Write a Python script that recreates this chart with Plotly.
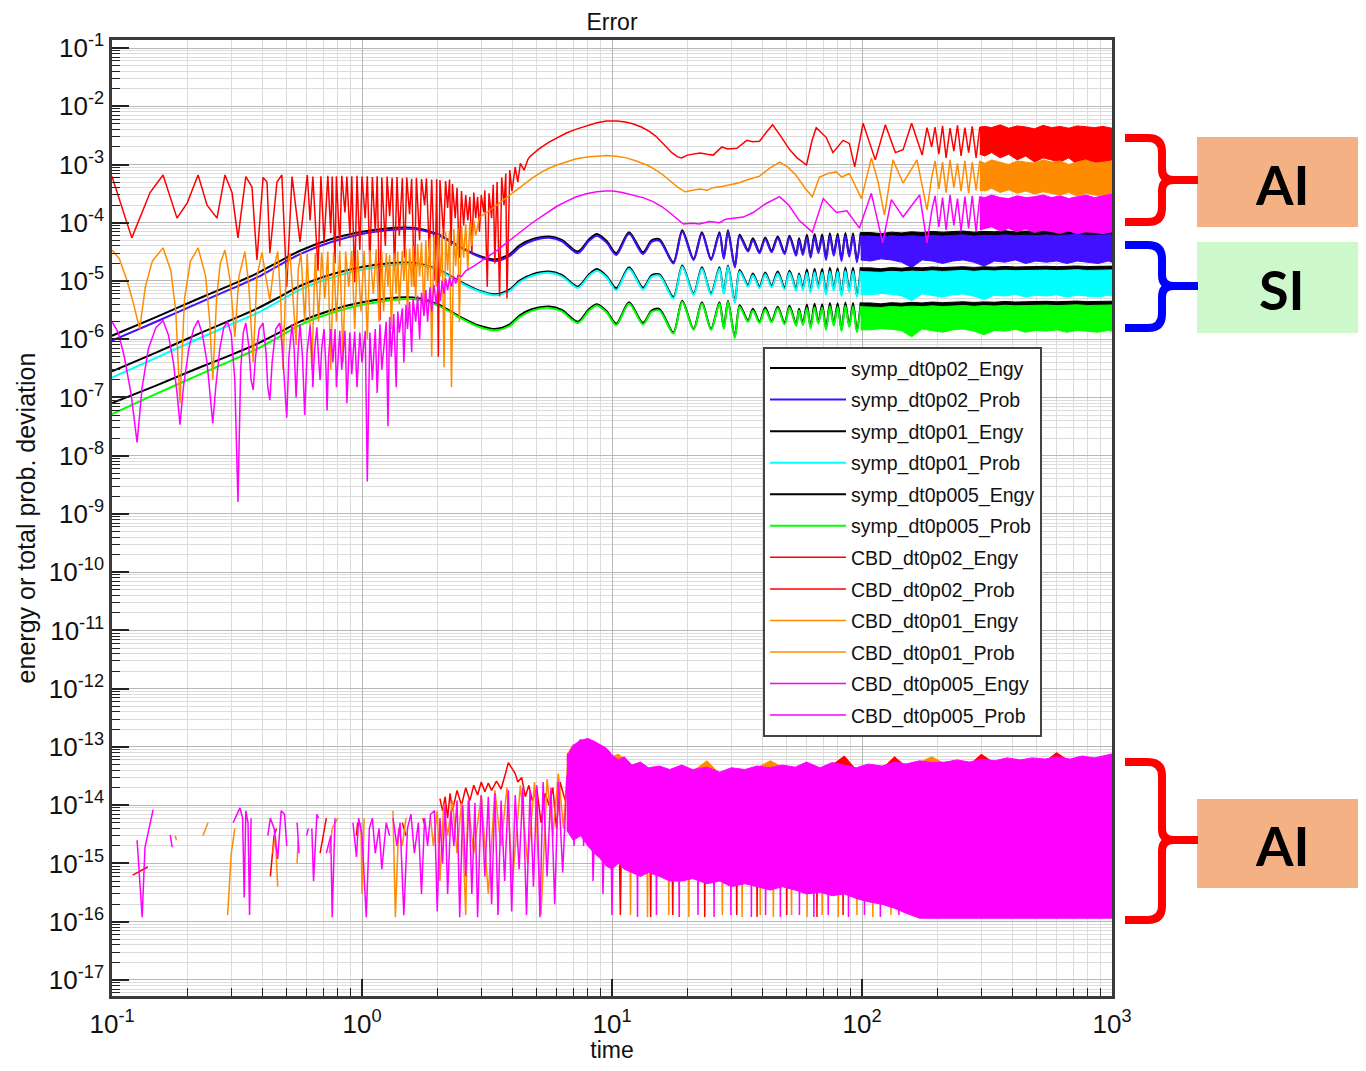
import plotly.graph_objects as go

# ---------------------------------------------------------------- data
# symplectic integrator: smooth / oscillating part (time grid shared by the six SI curves)
T_SYMP = [0.1, 0.15, 0.225, 0.3, 0.38, 0.47, 0.565, 0.77, 1.0, 1.26,
          1.5, 1.7, 2.04, 2.46, 2.95, 3.4, 3.9, 4.27, 4.8, 5.6,
          6.3, 7.3, 8.1, 8.7, 9.5, 10.4, 11.7, 13.3, 14.4, 15.5,
          17.6, 19.1, 21.2, 22.9, 24.9, 26.9, 28.0, 29.1, 31.0, 32.4,
          35.0, 36.6, 38.9, 41.0, 43.5, 46.0, 49.0, 51.3, 54.5, 56.0,
          58.0, 60.2, 62.3, 64.6, 66.9, 69.3, 71.8, 74.4, 77.1, 79.9,
          82.8, 85.8, 88.9, 92.1, 95.4, 98.8]

V_SYMP02_ENGY = [1.15e-6, 2.4e-6, 5.1e-6, 8.6e-6, 1.35e-5, 2.2e-5, 3.3e-5, 5.4e-5, 7.0e-5, 8.0e-5,
                 8.3e-5, 7.9e-5, 6.2e-5, 3.9e-5, 2.7e-5, 2.35e-5, 2.9e-5, 4.1e-5, 5.2e-5, 5.8e-5,
                 5.1e-5, 3.2e-5, 5.2e-5, 6.4e-5, 4.9e-5, 3.0e-5, 6.9e-5, 3.1e-5, 5.0e-5, 5.2e-5,
                 2.1e-5, 7.4e-5, 2.4e-5, 6.9e-5, 2.4e-5, 6.9e-5, 2.5e-5, 7.4e-5, 1.8e-5, 6.2e-5,
                 3.4e-5, 5.4e-5, 3.2e-5, 5.6e-5, 3.3e-5, 5.8e-5, 3.1e-5, 6.0e-5, 2.9e-5, 5.4e-5,
                 3.0e-5, 6.2e-5, 2.7e-5, 6.4e-5, 3.2e-5, 6.3e-5, 2.5e-5, 6.6e-5, 2.9e-5, 6.5e-5,
                 2.4e-5, 6.7e-5, 2.8e-5, 6.6e-5, 2.3e-5, 6.8e-5]
V_SYMP02_PROB = [9.5e-7, 2.0e-6, 4.3e-6, 7.3e-6, 1.15e-5, 1.9e-5, 2.9e-5, 4.8e-5, 6.4e-5, 7.4e-5,
                 7.9e-5, 7.6e-5, 6.0e-5, 3.8e-5, 2.6e-5, 2.2e-5, 2.7e-5, 3.8e-5, 4.9e-5, 5.5e-5,
                 4.8e-5, 3.0e-5, 4.9e-5, 6.0e-5, 4.6e-5, 2.8e-5, 6.5e-5, 2.9e-5, 4.7e-5, 4.9e-5,
                 2.0e-5, 7.0e-5, 2.3e-5, 6.5e-5, 2.3e-5, 6.5e-5, 2.4e-5, 7.0e-5, 1.7e-5, 5.8e-5,
                 3.2e-5, 5.0e-5, 3.0e-5, 5.2e-5, 3.1e-5, 5.4e-5, 2.9e-5, 5.6e-5, 2.7e-5, 5.0e-5,
                 2.8e-5, 5.5e-5, 2.5e-5, 5.7e-5, 3.0e-5, 5.6e-5, 2.3e-5, 5.9e-5, 2.7e-5, 5.8e-5,
                 2.2e-5, 6.0e-5, 2.6e-5, 5.9e-5, 2.1e-5, 6.0e-5]
V_SYMP01_ENGY = [2.8e-7, 5.9e-7, 1.27e-6, 2.15e-6, 3.35e-6, 5.4e-6, 8.2e-6, 1.33e-5, 1.74e-5, 2.0e-5,
                 2.08e-5, 1.98e-5, 1.55e-5, 9.8e-6, 6.8e-6, 5.9e-6, 7.2e-6, 1.02e-5, 1.3e-5, 1.45e-5,
                 1.27e-5, 8.0e-6, 1.3e-5, 1.6e-5, 1.22e-5, 7.5e-6, 1.72e-5, 7.7e-6, 1.25e-5, 1.3e-5,
                 5.3e-6, 1.85e-5, 6.1e-6, 1.72e-5, 6.1e-6, 1.72e-5, 6.3e-6, 1.85e-5, 4.5e-6, 1.55e-5,
                 8.5e-6, 1.35e-5, 8.0e-6, 1.4e-5, 8.3e-6, 1.45e-5, 7.7e-6, 1.5e-5, 7.3e-6, 1.35e-5,
                 7.5e-6, 1.58e-5, 6.7e-6, 1.62e-5, 8.0e-6, 1.6e-5, 6.2e-6, 1.68e-5, 7.2e-6, 1.66e-5,
                 5.9e-6, 1.71e-5, 6.9e-6, 1.68e-5, 5.6e-6, 1.72e-5]
V_SYMP01_PROB = [2.2e-7, 4.8e-7, 1.05e-6, 1.8e-6, 2.8e-6, 4.6e-6, 7.1e-6, 1.17e-5, 1.56e-5, 1.82e-5,
                 1.95e-5, 1.88e-5, 1.5e-5, 9.5e-6, 6.6e-6, 5.7e-6, 6.8e-6, 9.6e-6, 1.23e-5, 1.38e-5,
                 1.2e-5, 7.6e-6, 1.23e-5, 1.5e-5, 1.16e-5, 7.0e-6, 1.63e-5, 7.2e-6, 1.18e-5, 1.23e-5,
                 5.0e-6, 1.75e-5, 5.8e-6, 1.63e-5, 5.8e-6, 1.63e-5, 6.0e-6, 1.75e-5, 4.2e-6, 1.45e-5,
                 8.0e-6, 1.25e-5, 7.5e-6, 1.3e-5, 7.8e-6, 1.35e-5, 7.2e-6, 1.4e-5, 6.8e-6, 1.25e-5,
                 7.0e-6, 1.38e-5, 6.3e-6, 1.42e-5, 7.5e-6, 1.4e-5, 5.8e-6, 1.47e-5, 6.8e-6, 1.45e-5,
                 5.5e-6, 1.5e-5, 6.5e-6, 1.47e-5, 5.3e-6, 1.5e-5]
V_SYMP005_ENGY = [8.0e-8, 1.6e-7, 3.3e-7, 5.4e-7, 8.3e-7, 1.32e-6, 2.0e-6, 3.25e-6, 4.3e-6, 5.0e-6,
                  5.25e-6, 5.0e-6, 3.9e-6, 2.45e-6, 1.7e-6, 1.5e-6, 1.8e-6, 2.55e-6, 3.3e-6, 3.65e-6,
                  3.2e-6, 2.0e-6, 3.3e-6, 4.0e-6, 3.05e-6, 1.85e-6, 4.3e-6, 1.9e-6, 3.1e-6, 3.3e-6,
                  1.3e-6, 4.6e-6, 1.5e-6, 4.3e-6, 1.5e-6, 4.3e-6, 1.6e-6, 4.6e-6, 1.1e-6, 3.85e-6,
                  2.1e-6, 3.35e-6, 2.0e-6, 3.5e-6, 2.05e-6, 3.6e-6, 1.9e-6, 3.75e-6, 1.8e-6, 3.35e-6,
                  1.85e-6, 3.95e-6, 1.65e-6, 4.05e-6, 1.95e-6, 4.0e-6, 1.55e-6, 4.2e-6, 1.8e-6, 4.15e-6,
                  1.45e-6, 4.28e-6, 1.72e-6, 4.2e-6, 1.4e-6, 4.3e-6]
V_SYMP005_PROB = [5.2e-8, 1.15e-7, 2.5e-7, 4.3e-7, 6.8e-7, 1.12e-6, 1.75e-6, 2.9e-6, 3.9e-6, 4.6e-6,
                  4.9e-6, 4.7e-6, 3.7e-6, 2.35e-6, 1.62e-6, 1.42e-6, 1.7e-6, 2.4e-6, 3.1e-6, 3.45e-6,
                  3.0e-6, 1.9e-6, 3.1e-6, 3.8e-6, 2.9e-6, 1.75e-6, 4.1e-6, 1.8e-6, 2.95e-6, 3.1e-6,
                  1.25e-6, 4.4e-6, 1.45e-6, 4.1e-6, 1.45e-6, 4.1e-6, 1.5e-6, 4.4e-6, 1.05e-6, 3.6e-6,
                  2.0e-6, 3.1e-6, 1.9e-6, 3.25e-6, 1.95e-6, 3.4e-6, 1.8e-6, 3.5e-6, 1.7e-6, 3.1e-6,
                  1.75e-6, 3.45e-6, 1.55e-6, 3.55e-6, 1.85e-6, 3.5e-6, 1.45e-6, 3.68e-6, 1.7e-6, 3.62e-6,
                  1.38e-6, 3.75e-6, 1.62e-6, 3.68e-6, 1.32e-6, 3.75e-6]

# symplectic integrator: late, densely oscillating part (upper / lower envelope)
T_SYMP_BAND = [98.8, 108, 119, 131, 144, 158, 174, 191, 210, 231, 254, 280, 308,
               339, 373, 410, 451, 496, 546, 600, 660, 726, 799, 879, 967, 1000]
U_SYMP02_ENGY = [6.8e-5, 6.8e-5, 6.5e-5, 6.9e-5, 6.7e-5, 7.0e-5, 6.8e-5, 7.1e-5, 6.9e-5, 7.0e-5, 7.2e-5, 6.9e-5, 7.1e-5,
                 7.0e-5, 7.3e-5, 7.0e-5, 7.2e-5, 7.1e-5, 7.3e-5, 7.1e-5, 7.2e-5, 7.4e-5, 7.2e-5, 7.3e-5, 7.4e-5, 7.3e-5]
L_SYMP02_ENGY = [5.1e-5, 5.1e-5, 4.9e-5, 5.2e-5, 5.0e-5, 5.2e-5, 5.0e-5, 5.3e-5, 5.1e-5, 5.2e-5, 5.4e-5, 5.1e-5, 5.3e-5,
                 5.2e-5, 5.4e-5, 5.2e-5, 5.3e-5, 5.2e-5, 5.4e-5, 5.2e-5, 5.3e-5, 5.5e-5, 5.3e-5, 5.4e-5, 5.5e-5, 5.4e-5]
U_SYMP02_PROB = [5.9e-5, 5.9e-5, 5.7e-5, 6.0e-5, 5.8e-5, 6.0e-5, 5.8e-5, 6.1e-5, 5.9e-5, 6.0e-5, 6.2e-5, 5.9e-5, 6.1e-5,
                 6.0e-5, 6.2e-5, 6.0e-5, 6.1e-5, 6.0e-5, 6.2e-5, 6.0e-5, 6.1e-5, 6.3e-5, 6.1e-5, 6.2e-5, 6.3e-5, 6.2e-5]
L_SYMP02_PROB = [2.3e-5, 2.2e-5, 2.4e-5, 2.3e-5, 2.1e-5, 1.7e-5, 2.3e-5, 2.2e-5, 2.0e-5, 2.2e-5, 2.3e-5, 2.1e-5, 1.8e-5,
                 2.2e-5, 2.1e-5, 2.3e-5, 2.0e-5, 2.2e-5, 2.1e-5, 2.2e-5, 2.0e-5, 2.2e-5, 2.1e-5, 2.0e-5, 2.2e-5, 2.1e-5]
U_SYMP01_ENGY = [1.68e-5, 1.68e-5, 1.62e-5, 1.7e-5, 1.66e-5, 1.72e-5, 1.68e-5, 1.74e-5, 1.7e-5, 1.73e-5, 1.76e-5, 1.71e-5, 1.75e-5,
                 1.73e-5, 1.78e-5, 1.74e-5, 1.77e-5, 1.75e-5, 1.79e-5, 1.76e-5, 1.78e-5, 1.81e-5, 1.77e-5, 1.8e-5, 1.82e-5, 1.8e-5]
L_SYMP01_ENGY = [1.28e-5, 1.28e-5, 1.24e-5, 1.3e-5, 1.27e-5, 1.31e-5, 1.28e-5, 1.33e-5, 1.3e-5, 1.32e-5, 1.35e-5, 1.31e-5, 1.34e-5,
                 1.32e-5, 1.36e-5, 1.33e-5, 1.35e-5, 1.34e-5, 1.37e-5, 1.34e-5, 1.36e-5, 1.38e-5, 1.35e-5, 1.37e-5, 1.39e-5, 1.37e-5]
U_SYMP01_PROB = [1.45e-5, 1.45e-5, 1.41e-5, 1.47e-5, 1.43e-5, 1.48e-5, 1.45e-5, 1.5e-5, 1.46e-5, 1.49e-5, 1.52e-5, 1.47e-5, 1.51e-5,
                 1.49e-5, 1.53e-5, 1.5e-5, 1.52e-5, 1.5e-5, 1.54e-5, 1.51e-5, 1.53e-5, 1.56e-5, 1.52e-5, 1.55e-5, 1.57e-5, 1.55e-5]
L_SYMP01_PROB = [5.8e-6, 5.8e-6, 6.1e-6, 5.9e-6, 5.6e-6, 4.6e-6, 6.0e-6, 5.7e-6, 5.3e-6, 5.8e-6, 6.0e-6, 5.5e-6, 4.8e-6,
                 5.7e-6, 5.5e-6, 5.9e-6, 5.3e-6, 5.7e-6, 5.5e-6, 5.8e-6, 5.3e-6, 5.7e-6, 5.5e-6, 5.3e-6, 5.7e-6, 5.5e-6]
U_SYMP005_ENGY = [4.2e-6, 4.2e-6, 4.05e-6, 4.25e-6, 4.15e-6, 4.3e-6, 4.2e-6, 4.35e-6, 4.25e-6, 4.3e-6, 4.4e-6, 4.28e-6, 4.38e-6,
                  4.32e-6, 4.45e-6, 4.35e-6, 4.42e-6, 4.38e-6, 4.48e-6, 4.4e-6, 4.45e-6, 4.52e-6, 4.42e-6, 4.5e-6, 4.55e-6, 4.5e-6]
L_SYMP005_ENGY = [3.2e-6, 3.2e-6, 3.1e-6, 3.25e-6, 3.15e-6, 3.28e-6, 3.2e-6, 3.32e-6, 3.25e-6, 3.3e-6, 3.36e-6, 3.27e-6, 3.34e-6,
                  3.3e-6, 3.4e-6, 3.32e-6, 3.37e-6, 3.34e-6, 3.42e-6, 3.36e-6, 3.4e-6, 3.45e-6, 3.38e-6, 3.43e-6, 3.47e-6, 3.43e-6]
U_SYMP005_PROB = [3.62e-6, 3.62e-6, 3.52e-6, 3.66e-6, 3.58e-6, 3.7e-6, 3.62e-6, 3.75e-6, 3.65e-6, 3.72e-6, 3.8e-6, 3.68e-6, 3.78e-6,
                  3.72e-6, 3.83e-6, 3.75e-6, 3.8e-6, 3.76e-6, 3.86e-6, 3.78e-6, 3.82e-6, 3.9e-6, 3.8e-6, 3.86e-6, 3.92e-6, 3.88e-6]
L_SYMP005_PROB = [1.45e-6, 1.45e-6, 1.52e-6, 1.48e-6, 1.4e-6, 1.1e-6, 1.5e-6, 1.42e-6, 1.32e-6, 1.45e-6, 1.5e-6, 1.38e-6, 1.2e-6,
                  1.42e-6, 1.38e-6, 1.48e-6, 1.32e-6, 1.42e-6, 1.38e-6, 1.45e-6, 1.32e-6, 1.42e-6, 1.38e-6, 1.32e-6, 1.42e-6, 1.38e-6]

# CBD integrator, energy deviation: (time, value)
CBD02_ENGY = [
    (0.100, 6.2e-4), (0.120, 5.5e-5), (0.142, 3.3e-4), (0.160, 6.6e-4), (0.182, 1.2e-4),
    (0.200, 2.2e-4), (0.221, 6.6e-4), (0.240, 2.0e-4), (0.263, 1.2e-4), (0.283, 6.6e-4),
    (0.302, 3.3e-4), (0.319, 5.5e-5), (0.343, 6.2e-4), (0.363, 4.1e-4), (0.380, 2.3e-5),
    (0.402, 6.0e-4), (0.417, 5.0e-4), (0.428, 3.0e-5), (0.457, 5.0e-4), (0.478, 6.6e-4),
    (0.500, 8.0e-6), (0.525, 6.2e-4), (0.565, 4.7e-5), (0.604, 6.6e-4), (0.620, 1.1e-4),
    (0.636, 6.2e-4), (0.667, 1.5e-5), (0.685, 6.3e-4), (0.705, 4.5e-5), (0.730, 6.4e-4),
    (0.750, 6.6e-5), (0.760, 6.2e-4), (0.780, 2.0e-5), (0.790, 6.3e-4), (0.815, 3.9e-5),
    (0.830, 6.4e-4), (0.855, 1.5e-4), (0.870, 6.2e-4), (0.895, 5.7e-5), (0.910, 6.3e-4),
    (0.935, 9.5e-6), (0.955, 6.4e-4), (0.980, 3.4e-5), (1.000, 6.2e-4), (1.030, 1.2e-4),
    (1.050, 6.3e-4), (1.075, 2.0e-5), (1.100, 6.1e-4), (1.130, 7.0e-5), (1.150, 6.3e-4),
    (1.180, 2.1e-6), (1.200, 6.0e-4), (1.240, 4.0e-5), (1.260, 6.2e-4), (1.290, 1.3e-4),
    (1.320, 5.9e-4), (1.350, 1.5e-5), (1.380, 6.1e-4), (1.410, 6.0e-5), (1.450, 5.8e-4),
    (1.480, 2.5e-5), (1.510, 6.0e-4), (1.550, 1.4e-4), (1.580, 5.7e-4), (1.620, 8.0e-6),
    (1.650, 5.9e-4), (1.700, 5.0e-5), (1.730, 5.6e-4), (1.780, 2.0e-4), (1.810, 5.8e-4),
    (1.860, 3.0e-5), (1.900, 5.5e-4), (1.960, 1.0e-5), (1.990, 5.6e-4), (2.020, 5.0e-7),
    (2.050, 5.4e-4), (2.120, 6.0e-5), (2.160, 5.2e-4), (2.200, 1.8e-4), (2.240, 5.5e-4),
    (2.270, 4.0e-5), (2.300, 4.6e-4), (2.360, 1.2e-4), (2.400, 4.0e-4), (2.450, 2.5e-5),
    (2.500, 3.5e-4), (2.550, 9.0e-5), (2.600, 3.0e-4), (2.650, 1.1e-4), (2.700, 2.8e-4),
    (2.750, 3.0e-5), (2.800, 3.3e-4), (2.850, 1.2e-4), (2.900, 2.8e-4), (2.950, 7.0e-5),
    (3.000, 3.0e-4), (3.070, 1.5e-4), (3.100, 3.6e-4), (3.170, 8.0e-6), (3.220, 3.2e-4),
    (3.300, 1.2e-4), (3.350, 4.5e-4), (3.400, 2.0e-5), (3.470, 5.0e-4), (3.550, 5.4e-6),
    (3.620, 6.0e-4), (3.700, 2.0e-4), (3.760, 7.0e-4), (3.800, 5.0e-6), (3.900, 8.0e-4),
    (3.980, 3.5e-4), (4.100, 9.0e-4), (4.200, 5.0e-4), (4.300, 1.05e-3), (4.450, 8.0e-4),
    (4.600, 1.2e-3), (4.680, 1.35e-3), (5.100, 1.85e-3), (5.620, 2.45e-3), (6.100, 2.95e-3),
    (6.600, 3.5e-3), (7.200, 4.05e-3), (7.950, 4.6e-3), (8.700, 5.2e-3), (9.500, 5.6e-3),
    (10.50, 5.6e-3), (11.30, 5.35e-3), (12.10, 5.0e-3), (13.10, 4.4e-3), (14.10, 3.7e-3),
    (15.00, 3.05e-3), (15.80, 2.45e-3), (16.60, 1.95e-3), (17.40, 1.58e-3), (18.30, 1.35e-3),
    (19.00, 1.3e-3), (20.00, 1.45e-3), (21.00, 1.5e-3), (22.50, 1.58e-3), (24.00, 1.5e-3),
    (25.40, 1.45e-3), (27.50, 2.0e-3), (29.00, 1.85e-3), (31.60, 1.9e-3), (34.60, 2.6e-3),
    (36.50, 2.45e-3), (38.90, 2.5e-3), (41.50, 3.6e-3), (43.90, 4.8e-3), (47.00, 3.2e-3),
    (51.30, 1.8e-3), (55.00, 1.3e-3), (60.00, 9.8e-4), (63.00, 2.5e-3), (65.60, 4.3e-3),
    (72.00, 2.9e-3), (76.50, 1.6e-3), (84.00, 2.6e-3), (89.00, 2.3e-3), (93.50, 9.1e-4),
    (101.0, 5.1e-3), (113.0, 1.2e-3), (124.0, 4.8e-3), (136.0, 1.6e-3), (146.0, 1.8e-3),
    (158.0, 5.1e-3), (174.0, 1.45e-3), (182.0, 4.3e-3), (190.0, 2.0e-3), (196.0, 4.4e-3),
    (203.0, 1.5e-3), (210.0, 4.6e-3), (217.0, 1.3e-3), (225.0, 4.2e-3), (233.0, 1.7e-3),
    (241.0, 4.7e-3), (249.0, 1.4e-3), (258.0, 4.3e-3), (267.0, 1.6e-3), (276.0, 4.5e-3),
    (286.0, 1.3e-3), (296.0, 4.4e-3),
]
CBD01_ENGY = [
    (0.100, 3.4e-5), (0.107, 2.4e-5), (0.115, 1.0e-5), (0.122, 4.0e-6), (0.129, 1.5e-6),
    (0.136, 8.0e-6), (0.145, 2.2e-5), (0.160, 3.7e-5), (0.172, 1.5e-5), (0.180, 3.0e-6),
    (0.187, 8.0e-8), (0.195, 5.0e-6), (0.206, 2.2e-5), (0.221, 3.7e-5), (0.237, 1.2e-5),
    (0.246, 2.0e-6), (0.253, 2.0e-7), (0.262, 5.0e-6), (0.271, 2.0e-5), (0.283, 3.4e-5),
    (0.297, 1.0e-5), (0.310, 1.1e-6), (0.322, 1.2e-5), (0.340, 3.2e-5), (0.353, 8.0e-6),
    (0.367, 4.0e-7), (0.380, 1.2e-5), (0.398, 3.1e-5), (0.412, 1.2e-5), (0.428, 4.7e-6),
    (0.443, 1.6e-5), (0.460, 3.2e-5), (0.472, 6.0e-6), (0.483, 3.0e-7), (0.497, 1.4e-5),
    (0.515, 3.0e-5), (0.530, 5.0e-6), (0.545, 8.0e-7), (0.556, 1.6e-5), (0.570, 3.0e-5),
    (0.590, 2.0e-6), (0.604, 2.9e-5), (0.630, 3.0e-7), (0.650, 3.0e-5), (0.670, 2.0e-6),
    (0.690, 3.1e-5), (0.710, 5.0e-6), (0.730, 3.2e-5), (0.750, 3.0e-7), (0.770, 3.1e-5),
    (0.790, 2.0e-6), (0.815, 3.3e-5), (0.840, 4.0e-7), (0.860, 3.2e-5), (0.885, 8.0e-6),
    (0.910, 3.3e-5), (0.935, 1.5e-6), (0.960, 3.4e-5), (0.990, 3.0e-6), (1.020, 3.3e-5),
    (1.050, 1.0e-6), (1.075, 3.4e-5), (1.110, 6.0e-6), (1.140, 3.5e-5), (1.170, 2.0e-6),
    (1.200, 3.2e-5), (1.220, 3.0e-6), (1.250, 3.0e-5), (1.270, 8.0e-6), (1.290, 2.8e-5),
    (1.310, 1.5e-6), (1.340, 3.0e-5), (1.370, 6.0e-6), (1.390, 3.2e-5), (1.410, 4.0e-6),
    (1.450, 3.3e-5), (1.470, 1.0e-5), (1.500, 3.6e-5), (1.520, 2.5e-6), (1.550, 3.6e-5),
    (1.580, 8.0e-6), (1.600, 4.0e-5), (1.640, 5.0e-6), (1.670, 4.3e-5), (1.700, 1.2e-5),
    (1.730, 4.6e-5), (1.770, 3.0e-6), (1.800, 5.0e-5), (1.830, 1.0e-5), (1.870, 5.4e-5),
    (1.900, 5.0e-7), (1.940, 5.8e-5), (1.980, 8.0e-6), (2.020, 6.2e-5), (2.060, 1.2e-5),
    (2.090, 6.6e-5), (2.130, 3.3e-7), (2.160, 7.0e-5), (2.200, 1.5e-5), (2.240, 7.4e-5),
    (2.280, 1.5e-7), (2.330, 7.8e-5), (2.370, 1.8e-5), (2.420, 8.2e-5), (2.450, 2.0e-6),
    (2.500, 8.8e-5), (2.550, 2.5e-5), (2.600, 9.4e-5), (2.650, 1.5e-5), (2.700, 1.0e-4),
    (2.750, 4.0e-5), (2.800, 1.1e-4), (2.850, 6.0e-5), (2.950, 1.25e-4), (3.160, 1.5e-4),
    (3.550, 2.2e-4), (3.850, 2.9e-4), (4.150, 3.6e-4), (4.500, 4.7e-4), (4.810, 5.9e-4),
    (5.200, 7.3e-4), (5.620, 8.7e-4), (6.100, 1.0e-3), (6.600, 1.1e-3), (7.200, 1.25e-3),
    (7.950, 1.35e-3), (8.700, 1.4e-3), (9.500, 1.42e-3), (10.40, 1.38e-3), (11.40, 1.3e-3),
    (12.50, 1.15e-3), (13.80, 9.8e-4), (14.90, 8.2e-4), (16.00, 6.6e-4), (17.20, 5.1e-4),
    (18.30, 4.1e-4), (19.60, 3.4e-4), (21.00, 3.6e-4), (22.40, 3.8e-4), (24.00, 3.6e-4),
    (25.30, 4.0e-4), (27.50, 4.2e-4), (29.50, 4.5e-4), (32.00, 4.8e-4), (34.60, 5.4e-4),
    (38.90, 6.3e-4), (42.50, 8.5e-4), (46.80, 1.1e-3), (50.50, 9.0e-4), (54.40, 6.6e-4),
    (59.00, 4.0e-4), (63.30, 2.8e-4), (67.60, 6.1e-4), (73.00, 7.0e-4), (78.90, 7.5e-4),
    (83.00, 6.1e-4), (89.00, 7.0e-4), (99.50, 2.6e-4), (109.0, 1.3e-3), (116.0, 5.0e-4),
    (123.0, 1.35e-4), (133.0, 1.2e-3), (146.0, 4.8e-4), (166.0, 1.2e-3), (182.0, 1.66e-4),
    (190.0, 6.0e-4), (196.0, 1.15e-3), (203.0, 3.8e-4), (210.0, 1.1e-3), (217.0, 3.3e-4),
    (225.0, 1.2e-3), (233.0, 4.0e-4), (241.0, 1.05e-3), (249.0, 3.5e-4), (258.0, 1.15e-3),
    (267.0, 3.2e-4), (276.0, 1.1e-3), (286.0, 3.6e-4), (296.0, 1.15e-3),
]
CBD005_ENGY = [
    (0.100, 2.0e-6), (0.106, 1.3e-6), (0.112, 5.0e-7), (0.119, 1.2e-7), (0.126, 1.7e-8),
    (0.132, 1.5e-7), (0.140, 7.0e-7), (0.150, 1.6e-6), (0.160, 2.1e-6), (0.168, 1.2e-6),
    (0.176, 4.0e-7), (0.182, 1.2e-7), (0.187, 3.4e-8), (0.193, 1.5e-7), (0.203, 7.0e-7),
    (0.212, 1.5e-6), (0.221, 2.1e-6), (0.230, 1.2e-6), (0.240, 4.0e-7), (0.247, 1.2e-7),
    (0.253, 3.6e-8), (0.260, 1.5e-7), (0.270, 7.0e-7), (0.280, 1.6e-6), (0.290, 2.0e-6),
    (0.300, 1.2e-6), (0.310, 2.0e-7), (0.319, 1.6e-9), (0.327, 3.0e-7), (0.335, 1.3e-6),
    (0.343, 1.9e-6), (0.352, 8.0e-7), (0.360, 2.0e-7), (0.367, 1.35e-7), (0.375, 5.0e-7),
    (0.388, 1.5e-6), (0.402, 1.9e-6), (0.413, 6.0e-7), (0.420, 1.5e-7), (0.428, 9.0e-8),
    (0.437, 4.0e-7), (0.452, 1.5e-6), (0.469, 1.9e-6), (0.480, 7.0e-7), (0.490, 1.5e-7),
    (0.500, 4.5e-8), (0.510, 5.0e-7), (0.525, 1.8e-6), (0.535, 7.0e-7), (0.545, 1.0e-7),
    (0.555, 6.0e-7), (0.565, 1.8e-6), (0.578, 5.0e-7), (0.590, 5.0e-8), (0.603, 6.0e-7),
    (0.620, 1.7e-6), (0.630, 5.0e-7), (0.636, 1.5e-7), (0.645, 6.0e-7), (0.660, 1.6e-6),
    (0.672, 4.0e-7), (0.680, 2.0e-7), (0.690, 7.0e-7), (0.705, 1.5e-6), (0.718, 3.0e-7),
    (0.725, 6.0e-8), (0.735, 5.0e-7), (0.750, 1.5e-6), (0.765, 4.0e-7), (0.780, 1.5e-6),
    (0.790, 1.5e-7), (0.815, 1.4e-6), (0.830, 3.0e-7), (0.855, 1.4e-6), (0.870, 8.0e-8),
    (0.894, 1.3e-6), (0.910, 2.5e-7), (0.935, 1.35e-6), (0.955, 1.5e-7), (0.980, 1.3e-6),
    (1.000, 4.0e-7), (1.030, 1.4e-6), (1.050, 3.6e-9), (1.075, 1.3e-6), (1.100, 2.0e-7),
    (1.130, 1.5e-6), (1.150, 1.2e-7), (1.180, 1.8e-6), (1.200, 3.0e-7), (1.250, 2.0e-6),
    (1.270, 3.2e-8), (1.290, 2.4e-6), (1.310, 5.0e-7), (1.340, 2.7e-6), (1.370, 1.5e-7),
    (1.390, 3.0e-6), (1.410, 1.3e-6), (1.450, 3.4e-6), (1.470, 4.0e-7), (1.500, 3.9e-6),
    (1.520, 1.5e-6), (1.550, 4.4e-6), (1.580, 6.0e-7), (1.600, 5.0e-6), (1.640, 2.0e-6),
    (1.670, 5.6e-6), (1.700, 1.0e-6), (1.730, 6.3e-6), (1.770, 2.5e-6), (1.800, 7.0e-6),
    (1.830, 2.0e-6), (1.870, 7.8e-6), (1.900, 3.0e-6), (1.940, 8.6e-6), (1.980, 4.0e-6),
    (2.020, 9.5e-6), (2.060, 4.5e-6), (2.090, 1.0e-5), (2.130, 6.0e-6), (2.160, 1.1e-5),
    (2.200, 7.0e-6), (2.240, 1.15e-5), (2.280, 8.0e-6), (2.330, 1.2e-5), (2.370, 9.0e-6),
    (2.420, 1.25e-5), (2.500, 1.2e-5), (2.600, 1.5e-5), (2.800, 1.8e-5), (3.050, 2.3e-5),
    (3.450, 3.3e-5), (3.900, 5.0e-5), (4.300, 7.0e-5), (4.800, 1.0e-4), (5.400, 1.4e-4),
    (6.000, 1.9e-4), (6.600, 2.35e-4), (7.200, 2.8e-4), (7.900, 3.15e-4), (8.700, 3.4e-4),
    (9.400, 3.5e-4), (10.10, 3.5e-4), (11.00, 3.3e-4), (12.10, 3.0e-4), (13.30, 2.7e-4),
    (14.60, 2.3e-4), (15.80, 1.9e-4), (17.00, 1.5e-4), (18.20, 1.15e-4), (19.30, 9.5e-5),
    (20.80, 9.8e-5), (22.40, 9.5e-5), (24.50, 1.05e-4), (26.90, 1.0e-4), (28.50, 1.15e-4),
    (30.50, 1.2e-4), (33.50, 1.25e-4), (36.70, 1.5e-4), (41.00, 2.1e-4), (46.80, 2.8e-4),
    (51.00, 2.0e-4), (56.00, 1.1e-4), (63.30, 6.9e-5), (70.00, 2.6e-4), (79.00, 1.5e-4),
    (87.00, 1.6e-4), (97.70, 8.1e-5), (109.0, 3.2e-4), (121.0, 4.5e-5), (131.0, 2.5e-4),
    (146.0, 1.26e-4), (170.0, 3.0e-4), (182.0, 4.5e-5), (190.0, 1.6e-4), (196.0, 2.9e-4),
    (203.0, 8.5e-5), (210.0, 2.7e-4), (217.0, 7.5e-5), (225.0, 3.0e-4), (233.0, 9.0e-5),
    (241.0, 2.6e-4), (249.0, 7.2e-5), (258.0, 2.8e-4), (267.0, 8.0e-5), (276.0, 2.9e-4),
    (286.0, 7.0e-5), (296.0, 2.8e-4),
]

# CBD energy deviation, late dense part (upper / lower envelope)
T_CBD_BAND = [296, 310, 330, 357, 386, 418, 452, 490, 530, 573, 620, 671, 726, 786, 850, 920, 1000]
U_CBD02_ENGY = [4.4e-3, 4.5e-3, 4.3e-3, 4.8e-3, 4.2e-3, 4.6e-3, 4.4e-3, 4.1e-3, 4.7e-3,
                4.3e-3, 4.5e-3, 4.2e-3, 4.6e-3, 4.4e-3, 4.3e-3, 4.5e-3, 4.2e-3]
L_CBD02_ENGY = [1.5e-3, 1.4e-3, 1.6e-3, 1.3e-3, 1.5e-3, 1.2e-3, 1.4e-3, 1.1e-3, 1.3e-3,
                1.2e-3, 1.1e-3, 1.3e-3, 1.0e-3, 1.2e-3, 1.1e-3, 1.0e-3, 1.2e-3]
U_CBD01_ENGY = [1.15e-3, 1.05e-3, 1.2e-3, 1.1e-3, 1.0e-3, 1.15e-3, 1.1e-3, 1.05e-3, 1.2e-3,
                1.1e-3, 1.15e-3, 1.0e-3, 1.1e-3, 1.2e-3, 1.05e-3, 1.1e-3, 1.15e-3]
L_CBD01_ENGY = [3.6e-4, 3.5e-4, 3.9e-4, 3.3e-4, 3.7e-4, 3.2e-4, 3.5e-4, 3.1e-4, 3.4e-4,
                3.2e-4, 3.0e-4, 3.3e-4, 2.9e-4, 3.2e-4, 3.0e-4, 2.9e-4, 3.1e-4]
U_CBD005_ENGY = [2.8e-4, 2.7e-4, 3.0e-4, 2.7e-4, 2.6e-4, 2.9e-4, 2.7e-4, 2.8e-4, 3.0e-4,
                 2.7e-4, 2.9e-4, 2.6e-4, 2.8e-4, 3.0e-4, 2.7e-4, 2.9e-4, 3.1e-4]
L_CBD005_ENGY = [7.5e-5, 8.0e-5, 8.5e-5, 7.2e-5, 8.0e-5, 7.0e-5, 7.8e-5, 6.8e-5, 7.5e-5,
                 7.0e-5, 6.6e-5, 7.2e-5, 6.5e-5, 7.0e-5, 6.8e-5, 6.5e-5, 7.0e-5]

# CBD integrator, total probability deviation (None = exact zero, not drawn on log axis)
CBD02_PROB = [
    (0.121, 6.3e-16), (0.139, 8.7e-16), (None, None),
    (0.430, 6.0e-16), (0.445, 3.0e-15), (0.455, 4.0e-15), (None, None),
    (0.680, 1.5e-15), (0.720, 6.0e-15), (None, None),
    (0.950, 3.0e-15), (0.960, 5.0e-15), (None, None),
    (1.450, 5.0e-15), (1.500, 3.0e-15), (None, None), (1.750, 6.0e-15), (1.800, 4.0e-15), (None, None),
    (2.050, 1.3e-14), (2.100, 8.0e-15), (2.150, 1.4e-14), (2.200, 6.0e-15), (2.250, 1.6e-14),
    (2.300, 8.0e-15), (2.400, 1.8e-14), (2.500, 1.0e-14), (2.600, 2.0e-14), (2.700, 1.2e-14),
    (2.800, 2.2e-14), (2.900, 1.5e-14), (3.000, 2.5e-14), (3.100, 1.7e-14), (3.200, 2.4e-14),
    (3.300, 1.8e-14), (3.450, 2.6e-14), (3.600, 1.9e-14), (3.750, 3.5e-14), (3.850, 5.4e-14),
    (3.950, 4.5e-14), (4.100, 3.5e-14), (4.200, 2.5e-14), (4.350, 3.0e-14), (4.500, 1.4e-14),
    (4.650, 2.2e-14), (4.800, 1.2e-14), (5.000, 2.0e-14), (5.200, 5.0e-15), (5.400, 1.6e-14),
    (5.600, 1.0e-14), (5.800, 2.0e-14), (6.000, 4.0e-15), (6.200, 2.5e-14), (6.500, 1.2e-14),
    (6.800, 4.0e-14), (7.100, 8.0e-14), (7.300, 3.0e-15), (7.500, 1.0e-13), (7.900, 1.1e-13),
    (8.300, 2.0e-15), (8.600, 1.0e-13), (9.200, 9.0e-14), (9.600, 1.0e-15), (10.00, 7.0e-14),
    (None, None),
    (10.70, 2.0e-15), (10.80, 1.3e-16), (10.90, 2.0e-15), (14.20, 2.0e-15), (14.28, 1.2e-16),
    (14.36, 2.0e-15), (17.40, 2.0e-15), (17.50, 1.3e-16), (17.60, 2.0e-15), (23.40, 2.0e-15),
    (23.50, 1.2e-16), (23.60, 2.0e-15), (31.40, 2.0e-15), (31.55, 1.3e-16), (31.70, 2.0e-15),
    (37.90, 2.0e-15), (38.05, 1.2e-16), (38.20, 2.0e-15), (49.80, 2.0e-15), (50.00, 1.3e-16),
    (50.20, 2.0e-15), (65.80, 2.0e-15), (66.05, 1.2e-16), (66.30, 2.0e-15), (83.70, 2.0e-15),
    (84.00, 1.3e-16), (84.30, 2.0e-15),
]
CBD01_PROB = [
    (0.179, 3.0e-15), (0.181, 2.5e-15), (None, None),
    (0.231, 3.0e-15), (0.242, 5.0e-15), (None, None),
    (0.290, 1.3e-16), (0.300, 1.5e-15), (0.310, 4.0e-15), (None, None),
    (0.440, 1.5e-15), (0.450, 3.0e-15), (0.460, 4.0e-16), (None, None),
    (0.550, 1.0e-15), (0.555, 2.5e-15), (None, None),
    (0.740, 1.5e-15), (0.760, 4.0e-15), (0.800, 6.0e-15), (None, None),
    (0.990, 5.0e-15), (1.000, 3.0e-16), (1.020, 6.0e-15), (None, None),
    (1.330, 8.0e-15), (1.360, 1.2e-16), (1.400, 4.0e-15), (1.450, 2.0e-15), (1.500, 6.0e-15), (None, None),
    (1.880, 6.0e-15), (1.930, 2.0e-15), (2.000, 8.0e-15), (2.050, 5.0e-16), (2.120, 1.0e-14),
    (2.200, 3.0e-15), (2.300, 1.2e-14), (2.400, 1.5e-15), (2.500, 1.1e-14), (2.600, 1.3e-16),
    (2.650, 1.2e-14), (2.800, 1.5e-15), (3.000, 1.5e-14), (3.200, 3.0e-16), (3.400, 1.8e-14),
    (3.600, 2.0e-15), (3.800, 2.0e-14), (4.000, 5.0e-16), (4.300, 2.2e-14), (4.600, 1.0e-15),
    (4.900, 2.5e-14), (5.200, 1.3e-16), (5.500, 2.8e-14), (5.800, 3.0e-15), (6.100, 3.5e-14),
    (6.400, 4.0e-15), (6.700, 8.0e-14), (7.000, 1.1e-13), (7.300, 8.0e-15), (7.600, 1.2e-13),
    (7.900, 3.0e-15), (8.200, 1.1e-13), (8.600, 1.5e-15), (9.000, 9.0e-14), (None, None),
    (11.80, 2.0e-15), (11.86, 1.3e-16), (11.92, 2.0e-15), (13.80, 2.0e-15), (13.87, 1.2e-16),
    (13.94, 2.0e-15), (16.80, 2.0e-15), (16.88, 1.3e-16), (16.96, 2.0e-15), (20.20, 2.0e-15),
    (20.30, 1.2e-16), (20.40, 2.0e-15), (27.50, 2.0e-15), (27.63, 1.3e-16), (27.76, 2.0e-15),
    (33.00, 2.0e-15), (33.15, 1.2e-16), (33.30, 2.0e-15), (39.00, 2.0e-15), (39.18, 1.3e-16),
    (39.36, 2.0e-15), (44.00, 2.0e-15), (44.20, 1.2e-16), (44.40, 2.0e-15), (52.00, 2.0e-15),
    (52.25, 1.3e-16), (52.50, 2.0e-15), (60.00, 2.0e-15), (60.30, 1.2e-16), (60.60, 2.0e-15),
    (69.00, 2.0e-15), (69.30, 1.3e-16), (69.60, 2.0e-15), (80.00, 2.0e-15), (80.40, 1.2e-16),
    (80.80, 2.0e-15), (95.00, 2.0e-15), (95.45, 1.3e-16), (95.90, 2.0e-15), (110.0, 2.0e-15),
    (110.5, 1.2e-16), (111.0, 2.0e-15), (130.0, 2.0e-15), (130.6, 1.3e-16), (131.2, 2.0e-15),
]
CBD005_PROB = [
    (0.126, 2.5e-15), (0.132, 1.2e-16), (0.1355, 1.9e-15), (0.139, 3.1e-15), (0.146, 8.3e-15), (None, None),
    (0.171, 3.1e-15), (0.174, 1.9e-15), (None, None),
    (0.305, 5.0e-15), (0.316, 7.0e-15), (0.325, 9.0e-15), (0.333, 6.0e-15), (0.338, 2.6e-16),
    (0.343, 8.0e-15), (0.350, 5.0e-15), (0.355, 1.3e-16), (0.360, 6.0e-15), (None, None),
    (0.420, 3.0e-15), (0.430, 6.0e-15), (0.445, 4.0e-15), (0.460, 1.2e-15), (0.475, 8.0e-15),
    (0.490, 7.0e-15), (0.500, 2.0e-15), (None, None),
    (0.550, 5.0e-15), (0.560, 1.5e-15), (None, None), (0.600, 3.0e-15), (0.610, 4.0e-15), (None, None),
    (0.630, 4.0e-15), (0.640, 5.0e-16), (0.660, 7.0e-15), (0.670, 6.0e-15), (None, None),
    (0.720, 1.5e-15), (0.750, 3.0e-15), (0.760, 1.2e-16), (0.780, 6.0e-15), (None, None),
    (0.920, 5.0e-15), (0.950, 1.3e-15), (0.970, 6.0e-15), (1.000, 3.0e-15), (1.040, 1.2e-16),
    (1.070, 4.0e-15), (1.100, 6.0e-15), (1.130, 1.5e-15), (1.170, 4.0e-15), (1.200, 8.0e-16),
    (1.250, 5.0e-15), (1.290, 3.0e-15), (None, None),
    (1.330, 6.0e-15), (1.380, 2.0e-15), (1.420, 5.0e-15), (1.470, 1.3e-16), (1.520, 4.0e-15),
    (1.570, 7.0e-15), (1.620, 1.5e-15), (1.680, 5.0e-15), (1.730, 3.0e-16), (1.780, 6.0e-15),
    (1.830, 2.0e-15), (1.880, 7.0e-15), (1.950, 8.0e-15), (2.000, 1.5e-16), (2.050, 6.0e-15),
    (2.100, 1.0e-15), (2.150, 1.0e-14), (2.200, 3.0e-16), (2.270, 8.0e-15), (2.330, 2.0e-15),
    (2.400, 1.2e-14), (2.460, 1.2e-16), (2.530, 1.0e-14), (2.600, 6.0e-16), (2.680, 1.3e-14),
    (2.750, 3.0e-16), (2.830, 1.1e-14), (2.900, 1.2e-16), (3.000, 1.5e-14), (3.100, 6.0e-16),
    (3.200, 1.4e-14), (3.300, 2.0e-16), (3.400, 1.6e-14), (3.500, 1.3e-16), (3.600, 1.2e-14),
    (3.720, 5.0e-16), (3.850, 1.8e-14), (3.970, 1.5e-16), (4.100, 1.5e-14), (4.250, 8.0e-16),
    (4.400, 2.0e-14), (4.550, 1.3e-16), (4.700, 1.8e-14), (4.850, 4.0e-16), (5.000, 2.2e-14),
    (5.150, 1.2e-16), (5.300, 2.5e-14), (5.500, 6.0e-16), (5.700, 2.0e-14), (5.900, 2.0e-16),
    (6.100, 2.5e-14), (6.350, 7.0e-16), (6.600, 3.0e-14), (6.900, 6.8e-14), (7.050, 2.0e-15),
    (7.200, 1.1e-13), (7.500, 1.35e-13), (7.700, 2.0e-15), (7.900, 1.3e-13), (8.200, 1.2e-13),
    (8.400, 5.0e-16), (8.700, 1.1e-13), (9.000, 1.0e-13), (9.200, 3.0e-16), (9.500, 9.0e-14),
    (9.800, 8.0e-14), (10.00, 1.3e-16), (10.10, 2.0e-15),
    (12.60, 2.0e-15), (12.65, 1.2e-16), (12.70, 2.0e-15), (15.00, 2.0e-15), (15.06, 1.3e-16),
    (15.12, 2.0e-15), (18.50, 2.0e-15), (18.57, 1.2e-16), (18.64, 2.0e-15), (22.00, 2.0e-15),
    (22.08, 1.3e-16), (22.16, 2.0e-15), (25.50, 2.0e-15), (25.60, 1.2e-16), (25.70, 2.0e-15),
    (29.80, 2.0e-15), (29.90, 1.3e-16), (30.00, 2.0e-15), (36.00, 2.0e-15), (36.10, 1.2e-16),
    (36.20, 2.0e-15), (41.00, 2.0e-15), (41.15, 1.3e-16), (41.30, 2.0e-15), (47.00, 2.0e-15),
    (47.15, 1.2e-16), (47.30, 2.0e-15), (56.00, 2.0e-15), (56.20, 1.3e-16), (56.40, 2.0e-15),
    (64.00, 2.0e-15), (64.20, 1.2e-16), (64.40, 2.0e-15), (73.00, 2.0e-15), (73.25, 1.3e-16),
    (73.50, 2.0e-15), (88.00, 2.0e-15), (88.30, 1.2e-16), (88.60, 2.0e-15), (102.0, 2.0e-15),
    (102.3, 1.3e-16), (102.6, 2.0e-15), (118.0, 2.0e-15), (118.4, 1.2e-16), (118.8, 2.0e-15),
    (140.0, 2.0e-15), (140.4, 1.3e-16), (140.8, 2.0e-15),
]

# CBD probability deviation, dense part (upper / lower envelope)
T_PROB_BAND = [6.6, 7.0, 7.5, 8.0, 8.5, 9.0, 9.5, 10.0, 10.6, 11.2, 12, 13, 14, 15.5, 17, 19, 21,
               24, 27, 30, 34, 38, 43, 48, 54, 60, 68, 76, 85, 95, 106, 120, 135, 150, 170, 190,
               215, 240, 270, 300, 340, 380, 430, 480, 540, 600, 680, 760, 850, 1000]
U_CBD005_PROB = [6.8e-14, 1.07e-13, 1.3e-13, 1.4e-13, 1.25e-13, 1.07e-13, 9.5e-14, 7.3e-14, 6.0e-14, 6.8e-14,
                 4.9e-14, 5.5e-14, 4.4e-14, 4.7e-14, 4.1e-14, 4.9e-14, 4.1e-14, 4.5e-14, 3.7e-14, 4.4e-14,
                 4.1e-14, 4.7e-14, 4.4e-14, 4.9e-14, 4.5e-14, 5.5e-14, 4.4e-14, 5.4e-14, 4.9e-14, 4.4e-14,
                 5.1e-14, 4.7e-14, 5.5e-14, 5.1e-14, 5.8e-14, 5.4e-14, 5.5e-14, 6.0e-14, 5.5e-14, 6.2e-14,
                 5.8e-14, 6.5e-14, 6.0e-14, 6.5e-14, 6.2e-14, 6.8e-14, 6.2e-14, 7.0e-14, 6.5e-14, 7.6e-14]
L_CBD005_PROB = [3.7e-15, 2.5e-15, 3.0e-15, 2.0e-15, 1.5e-15, 1.2e-15, 9.0e-16, 8.0e-16, 1.0e-15, 8.0e-16,
                 7.0e-16, 6.0e-16, 7.0e-16, 6.0e-16, 5.0e-16, 5.0e-16, 5.5e-16, 4.5e-16, 5.0e-16, 4.0e-16,
                 4.5e-16, 4.0e-16, 3.5e-16, 4.0e-16, 3.5e-16, 3.0e-16, 3.2e-16, 2.8e-16, 3.0e-16, 2.5e-16,
                 2.2e-16, 2.0e-16, 1.7e-16, 1.4e-16, 1.15e-16, 1.15e-16, 1.15e-16, 1.15e-16, 1.15e-16, 1.15e-16,
                 1.15e-16, 1.15e-16, 1.15e-16, 1.15e-16, 1.15e-16, 1.15e-16, 1.15e-16, 1.15e-16, 1.15e-16, 1.15e-16]
U_CBD02_PROB = [7.5e-14, 9.0e-14, 1.15e-13, 1.2e-13, 1.1e-13, 9.5e-14, 8.5e-14, 6.5e-14, 5.4e-14, 6.0e-14,
                4.4e-14, 5.0e-14, 4.0e-14, 4.3e-14, 3.7e-14, 4.4e-14, 3.7e-14, 4.0e-14, 3.3e-14, 4.0e-14,
                3.7e-14, 4.2e-14, 4.0e-14, 4.4e-14, 4.1e-14, 5.0e-14, 4.0e-14, 4.9e-14, 7.0e-14, 4.0e-14,
                4.6e-14, 4.2e-14, 6.8e-14, 4.6e-14, 5.2e-14, 4.9e-14, 5.0e-14, 5.4e-14, 5.0e-14, 7.5e-14,
                5.2e-14, 5.9e-14, 5.4e-14, 5.9e-14, 5.6e-14, 8.0e-14, 5.6e-14, 6.3e-14, 5.9e-14, 6.8e-14]
L_CBD02_PROB = [4.0e-15, 3.5e-15, 3.5e-15, 3.0e-15, 3.0e-15, 2.5e-15, 2.5e-15, 2.5e-15, 2.5e-15, 2.5e-15,
                2.5e-15, 2.5e-15, 2.5e-15, 2.5e-15, 2.5e-15, 2.5e-15, 2.5e-15, 2.5e-15, 2.5e-15, 2.5e-15,
                2.5e-15, 2.5e-15, 2.5e-15, 2.5e-15, 2.5e-15, 2.5e-15, 2.5e-15, 2.5e-15, 2.5e-15, 2.5e-15,
                2.5e-15, 2.5e-15, 2.5e-15, 2.5e-15, 2.5e-15, 2.5e-15, 2.5e-15, 2.5e-15, 2.5e-15, 2.5e-15,
                2.5e-15, 2.5e-15, 2.5e-15, 2.5e-15, 2.5e-15, 2.5e-15, 2.5e-15, 2.5e-15, 2.5e-15, 2.5e-15]
U_CBD01_PROB = [6.2e-14, 1.0e-13, 1.2e-13, 1.3e-13, 1.15e-13, 1.0e-13, 8.8e-14, 6.8e-14, 7.5e-14, 6.3e-14,
                4.5e-14, 5.1e-14, 4.1e-14, 4.4e-14, 3.8e-14, 4.5e-14, 3.8e-14, 5.8e-14, 3.4e-14, 4.1e-14,
                3.8e-14, 4.4e-14, 5.8e-14, 4.5e-14, 4.2e-14, 5.1e-14, 4.1e-14, 5.0e-14, 4.5e-14, 4.1e-14,
                4.7e-14, 4.4e-14, 5.1e-14, 4.7e-14, 5.4e-14, 6.8e-14, 5.1e-14, 5.6e-14, 5.1e-14, 5.8e-14,
                5.4e-14, 6.0e-14, 5.6e-14, 6.0e-14, 5.8e-14, 6.3e-14, 5.8e-14, 6.5e-14, 6.0e-14, 7.0e-14]
L_CBD01_PROB = [4.0e-15, 3.5e-15, 3.5e-15, 3.0e-15, 3.0e-15, 2.5e-15, 2.5e-15, 2.5e-15, 2.5e-15, 2.5e-15,
                2.5e-15, 2.5e-15, 2.5e-15, 2.5e-15, 2.5e-15, 2.5e-15, 2.5e-15, 2.5e-15, 2.5e-15, 2.5e-15,
                2.5e-15, 2.5e-15, 2.5e-15, 2.5e-15, 2.5e-15, 2.5e-15, 2.5e-15, 2.5e-15, 2.5e-15, 2.5e-15,
                2.5e-15, 2.5e-15, 2.5e-15, 2.5e-15, 2.5e-15, 2.5e-15, 2.5e-15, 2.5e-15, 2.5e-15, 2.5e-15,
                2.5e-15, 2.5e-15, 2.5e-15, 2.5e-15, 2.5e-15, 2.5e-15, 2.5e-15, 2.5e-15, 2.5e-15, 2.5e-15]

X_TICKVALS = [0.1, 1, 10, 100, 1000]
X_TICKTEXT = ["10<sup>-1</sup>", "10<sup>0</sup>", "10<sup>1</sup>", "10<sup>2</sup>", "10<sup>3</sup>"]
Y_EXPONENTS = [-1, -2, -3, -4, -5, -6, -7, -8, -9, -10, -11, -12, -13, -14, -15, -16, -17]
Y_TICKVALS = [10.0 ** e for e in Y_EXPONENTS]
Y_TICKTEXT = ["10<sup>%d</sup>" % e for e in Y_EXPONENTS]

# ---------------------------------------------------------------- styling
BLACK, BLUE, CYAN, GREEN = "#000000", "#4010ff", "#00ffff", "#00ff00"
RED, ORANGE, MAGENTA = "#ff0000", "#ff8c00", "#ff00ff"
FONT = "Liberation Sans, Arial, Helvetica, sans-serif"

fig = go.Figure()


def split(pairs):
    return [p[0] for p in pairs], [p[1] for p in pairs]


def add_line(name, color, x, y, width, shape="linear", legend=True):
    fig.add_trace(go.Scatter(
        x=x, y=y, name=name, legendgroup=name, showlegend=legend, mode="lines",
        line=dict(color=color, width=width, shape=shape, smoothing=0.8 if shape == "spline" else None),
        hoverinfo="skip"))


def add_band(name, color, t, upper, lower):
    fig.add_trace(go.Scatter(
        x=list(t) + list(t)[::-1], y=list(upper) + list(lower)[::-1],
        name=name, legendgroup=name, showlegend=False, mode="lines",
        fill="toself", fillcolor=color, line=dict(color=color, width=1),
        hoverinfo="skip"))


SYMP = [
    ("symp_dt0p02_Engy", BLACK, V_SYMP02_ENGY, U_SYMP02_ENGY, L_SYMP02_ENGY),
    ("symp_dt0p02_Prob", BLUE, V_SYMP02_PROB, U_SYMP02_PROB, L_SYMP02_PROB),
    ("symp_dt0p01_Engy", BLACK, V_SYMP01_ENGY, U_SYMP01_ENGY, L_SYMP01_ENGY),
    ("symp_dt0p01_Prob", CYAN, V_SYMP01_PROB, U_SYMP01_PROB, L_SYMP01_PROB),
    ("symp_dt0p005_Engy", BLACK, V_SYMP005_ENGY, U_SYMP005_ENGY, L_SYMP005_ENGY),
    ("symp_dt0p005_Prob", GREEN, V_SYMP005_PROB, U_SYMP005_PROB, L_SYMP005_PROB),
]
for name, color, v, up, lo in SYMP:
    add_line(name, color, T_SYMP, v, 2, shape="spline")
    add_band(name, color, T_SYMP_BAND, up, lo)

CBD = [
    ("CBD_dt0p02_Engy", RED, CBD02_ENGY, T_CBD_BAND, U_CBD02_ENGY, L_CBD02_ENGY),
    ("CBD_dt0p02_Prob", RED, CBD02_PROB, T_PROB_BAND, U_CBD02_PROB, L_CBD02_PROB),
    ("CBD_dt0p01_Engy", ORANGE, CBD01_ENGY, T_CBD_BAND, U_CBD01_ENGY, L_CBD01_ENGY),
    ("CBD_dt0p01_Prob", ORANGE, CBD01_PROB, T_PROB_BAND, U_CBD01_PROB, L_CBD01_PROB),
    ("CBD_dt0p005_Engy", MAGENTA, CBD005_ENGY, T_CBD_BAND, U_CBD005_ENGY, L_CBD005_ENGY),
    ("CBD_dt0p005_Prob", MAGENTA, CBD005_PROB, T_PROB_BAND, U_CBD005_PROB, L_CBD005_PROB),
]
for name, color, pairs, tb, up, lo in CBD:
    x, y = split(pairs)
    add_band(name, color, tb, up, lo)
    add_line(name, color, x, y, 1.5)

# ---------------------------------------------------------------- side labels (AI / SI)
PLOT_L, PLOT_R, PLOT_T, PLOT_B = 112, 1112, 40, 996


def pp(px, py):
    return "%.5f,%.5f" % ((px - PLOT_L) / (PLOT_R - PLOT_L), (PLOT_B - py) / (PLOT_B - PLOT_T))


def brace(x0, xv, xs, ytop, ymid, ybot, r=14):
    return ("M" + pp(x0, ytop) + " L" + pp(xv - r, ytop) + " Q" + pp(xv, ytop) + " " + pp(xv, ytop + r) +
            " L" + pp(xv, ymid - 11) + " Q" + pp(xv, ymid) + " " + pp(xv + 11, ymid) + " L" + pp(xs, ymid) +
            " M" + pp(xv + 11, ymid) + " Q" + pp(xv, ymid) + " " + pp(xv, ymid + 11) +
            " L" + pp(xv, ybot - r) + " Q" + pp(xv, ybot) + " " + pp(xv - r, ybot) + " L" + pp(x0, ybot))


def rect(x0, y0, x1, y1, color):
    a = pp(x0, y0).split(",")
    b = pp(x1, y1).split(",")
    return dict(type="rect", xref="paper", yref="paper", x0=float(a[0]), y0=float(a[1]),
                x1=float(b[0]), y1=float(b[1]), fillcolor=color, line=dict(width=0), layer="above")


BOXES = [("AI", "#f4b183", RED, 137, 227, 138, 180, 222),
         ("SI", "#ccf8cc", "#0000ff", 242, 333, 245, 286, 328),
         ("AI", "#f4b183", RED, 799, 888, 762, 840, 920)]
shapes, annotations = [], []
for label, fillc, bracec, by0, by1, ytop, ymid, ybot in BOXES:
    shapes.append(rect(1197, by0, 1372, by1, fillc))
    shapes.append(dict(type="path", xref="paper", yref="paper",
                       path=brace(1125, 1162, 1198, ytop, ymid, ybot),
                       line=dict(color=bracec, width=8), layer="above"))
    c = pp(1282, (by0 + by1) / 2 + 2).split(",")
    annotations.append(dict(xref="paper", yref="paper", x=float(c[0]), y=float(c[1]),
                            text="<b>%s</b>" % label, showarrow=False, xanchor="center", yanchor="middle",
                            font=dict(family="Lato, Liberation Sans, sans-serif", size=54, color="black")))

# ---------------------------------------------------------------- layout
axis_common = dict(
    type="log", ticks="inside", ticklen=17, tickwidth=1.5, tickcolor="#222",
    showgrid=True, gridcolor="#b8b8b8", gridwidth=1,
    minor=dict(dtick="D1", ticks="inside", ticklen=8, tickwidth=1.2, tickcolor="#222",
               showgrid=True, gridcolor="#dcdcdc", gridwidth=1),
    showline=True, linecolor="#3a3a3a", linewidth=2.5, mirror=True, zeroline=False,
    tickfont=dict(size=26, color="#111", family=FONT), tickmode="array", automargin=False,
)

fig.update_layout(
    width=1350, height=1055,
    margin=dict(l=104, r=246, t=32, b=67, pad=0),
    paper_bgcolor="white", plot_bgcolor="white",
    font=dict(family=FONT, color="#111"),
    title=dict(text="Error", x=0.5, xref="paper", xanchor="center",
               y=1 - 14.0 / 1055, yref="container", yanchor="middle",
               font=dict(size=23, family=FONT, color="#111")),
    xaxis=dict(axis_common, range=[-1, 3], tickvals=X_TICKVALS, ticktext=X_TICKTEXT,
               ticklabelstandoff=3,
               title=dict(text="time", font=dict(size=23, family=FONT), standoff=4)),
    yaxis=dict(axis_common, range=[-17.275, -0.8627], tickvals=Y_TICKVALS, ticktext=Y_TICKTEXT,
               title=dict(text="energy or total prob. deviation", font=dict(size=25, family=FONT), standoff=7)),
    legend=dict(x=0.651, y=0.679, xanchor="left", yanchor="top", bgcolor="white",
                bordercolor="#444", borderwidth=2, font=dict(size=19.5, family=FONT, color="#111"),
                itemwidth=76, tracegroupgap=3.2, traceorder="grouped"),
    shapes=shapes, annotations=annotations,
    showlegend=True,
)

fig.write_html("out.html", config={"displayModeBar": False})
